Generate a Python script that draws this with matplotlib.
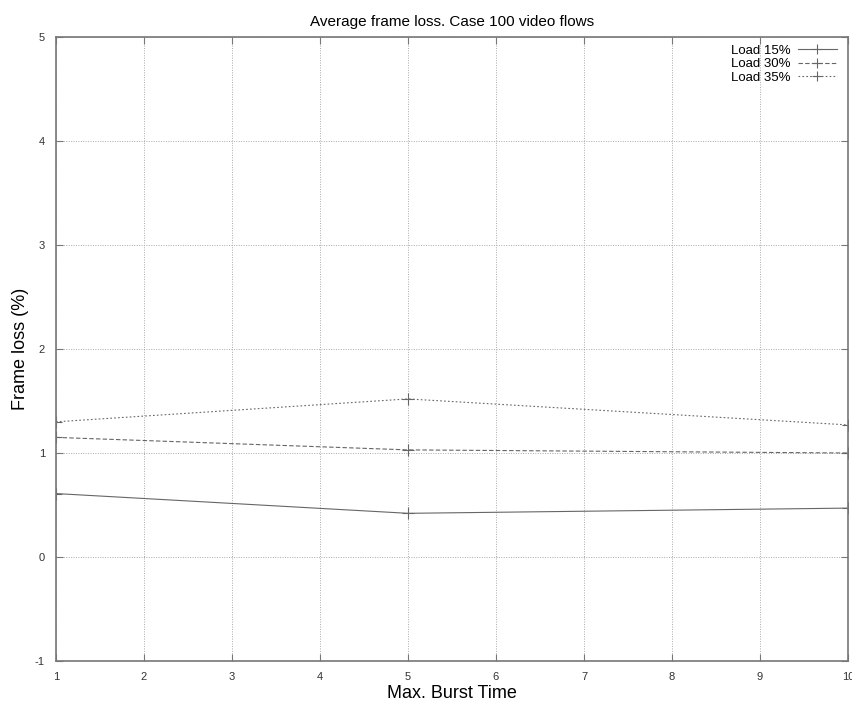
import matplotlib
matplotlib.use("Agg")
import matplotlib.pyplot as plt

plt.rcParams['font.family'] = ['Liberation Sans', 'DejaVu Sans']
plt.rcParams['axes.unicode_minus'] = False

# data
burst_time = [1, 5, 10]
load_15 = [0.61, 0.42, 0.47]
load_30 = [1.15, 1.03, 1.00]
load_35 = [1.30, 1.52, 1.27]
labels = ['Load 15%', 'Load 30%', 'Load 35%']
styles = ['-', (0, (4, 2)), (0, (1.5, 2))]

fig = plt.figure(figsize=(8.52, 7.04), dpi=100)
ax = fig.add_axes([0.0657, 0.0611, 0.9296, 0.8863])

for vals, lab, ls in zip([load_15, load_30, load_35], labels, styles):
    ax.plot(burst_time, vals, color='#666666', linestyle=ls, linewidth=0.8,
            marker='+', markersize=9, markeredgewidth=0.8, label=lab)

ax.set_xlim(1, 10)
ax.set_ylim(-1, 5)
ax.set_xticks(range(1, 11))
ax.set_yticks(range(-1, 6))
ax.grid(True, color='#aaaaaa', linestyle=(0, (1, 1.5)), linewidth=0.7)
ax.tick_params(direction='in', length=5, labelsize=8, color='#777777',
               labelcolor='#333333', top=True, right=True, pad=8)
for sp in ax.spines.values():
    sp.set_color('#777777')
    sp.set_linewidth(1.2)

ax.set_title('Average frame loss. Case 100 video flows', fontsize=11, pad=8)
ax.set_xlabel('Max. Burst Time', fontsize=13, labelpad=2)
ax.set_ylabel('Frame loss (%)', fontsize=13, labelpad=4)

leg = ax.legend(loc='upper right', bbox_to_anchor=(0.998, 1.003), frameon=False,
                markerfirst=False, fontsize=9.5, handlelength=3.0, handletextpad=0.5,
                labelspacing=0.1, borderaxespad=0.3, markerscale=0.8)

fig.savefig('out.png', dpi=100)
